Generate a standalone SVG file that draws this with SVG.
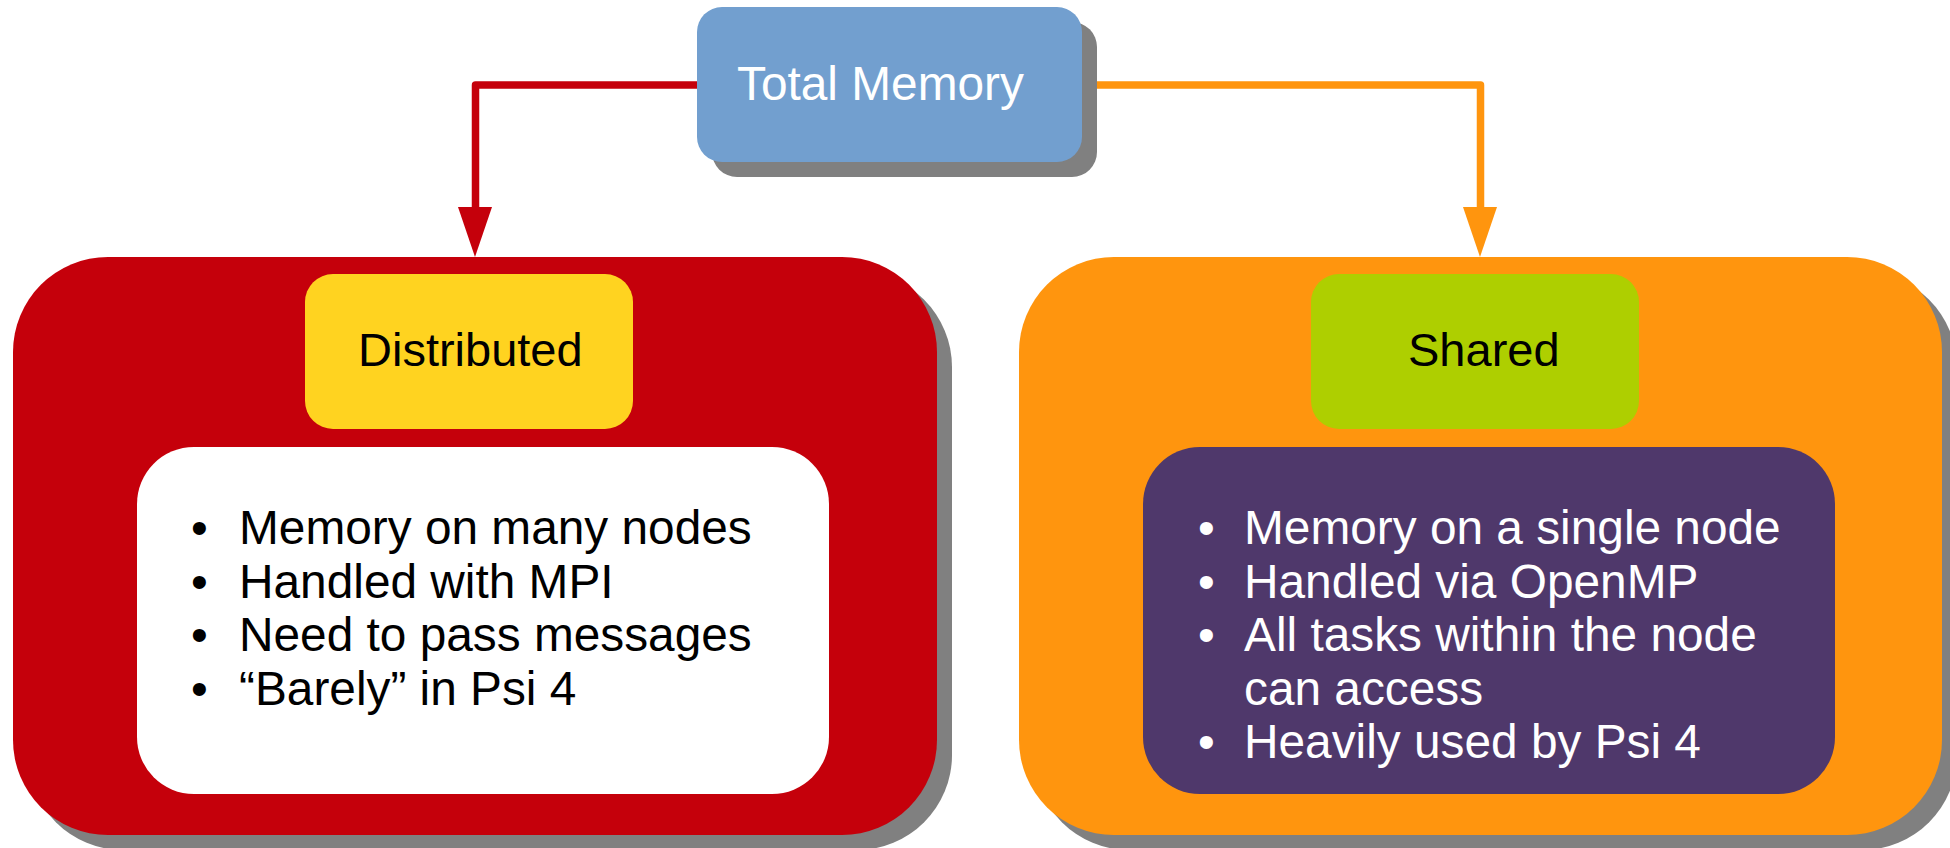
<svg xmlns="http://www.w3.org/2000/svg" width="1950" height="848" viewBox="0 0 1950 848">
<style>
text{font-family:"Liberation Sans",Arial,sans-serif}
.shadow{fill:#808080}
.title{font-size:47.8px;fill:#ffffff}
.head{font-size:47px;fill:#000000}
.item{font-size:47.8px}
.dark{fill:#000000}
.light{fill:#ffffff}
</style>
<g id="connectors" fill="none" stroke-width="7.5" stroke-linejoin="round">
<path d="M698,85 H475.5 V208" stroke="#c5000b"/>
<path d="M458,207 H492 L475,257 Z" fill="#c5000b" stroke="none"/>
<path d="M1082,85 H1480.5 V208" stroke="#ff950e"/>
<path d="M1463,207 H1497 L1480,257 Z" fill="#ff950e" stroke="none"/>
</g>
<g id="total-memory">
<rect class="shadow" x="712" y="22" width="385" height="155" rx="25" ry="25"/>
<rect x="697" y="7" width="385" height="155" rx="25" ry="25" fill="#729fcf"/>
<text class="title" x="737" y="100">Total Memory</text>
</g>
<g id="distributed">
<rect class="shadow" x="28" y="272" width="924" height="578" rx="95" ry="95"/>
<rect x="13" y="257" width="924" height="578" rx="95" ry="95" fill="#c5000b"/>
<g id="distributed-label">
<rect x="305" y="274" width="328" height="155" rx="28" ry="28" fill="#ffd320"/>
<text class="head" x="358" y="366">Distributed</text>
</g>
<g id="distributed-details">
<rect x="137" y="447" width="692" height="347" rx="57" ry="57" fill="#ffffff"/>
<g class="item dark">
<text x="191" y="544">•</text><text x="239" y="544">Memory on many nodes</text>
<text x="191" y="597.5">•</text><text x="239" y="597.5">Handled with MPI</text>
<text x="191" y="651">•</text><text x="239" y="651">Need to pass messages</text>
<text x="191" y="704.5">•</text><text x="239" y="704.5">“Barely” in Psi 4</text>
</g>
</g>
</g>
<g id="shared">
<rect class="shadow" x="1034" y="272" width="923" height="578" rx="95" ry="95"/>
<rect x="1019" y="257" width="923" height="578" rx="95" ry="95" fill="#ff950e"/>
<g id="shared-label">
<rect x="1311" y="274" width="328" height="155" rx="28" ry="28" fill="#aecf00"/>
<text class="head" x="1408" y="366">Shared</text>
</g>
<g id="shared-details">
<rect x="1143" y="447" width="692" height="347" rx="57" ry="57" fill="#4f386b"/>
<g class="item light">
<text x="1198" y="544">•</text><text x="1244" y="544">Memory on a single node</text>
<text x="1198" y="597.5">•</text><text x="1244" y="597.5">Handled via OpenMP</text>
<text x="1198" y="651">•</text><text x="1244" y="651">All tasks within the node</text>
<text x="1244" y="704.5">can access</text>
<text x="1198" y="757.6">•</text><text x="1244" y="757.6">Heavily used by Psi 4</text>
</g>
</g>
</g>
</svg>
